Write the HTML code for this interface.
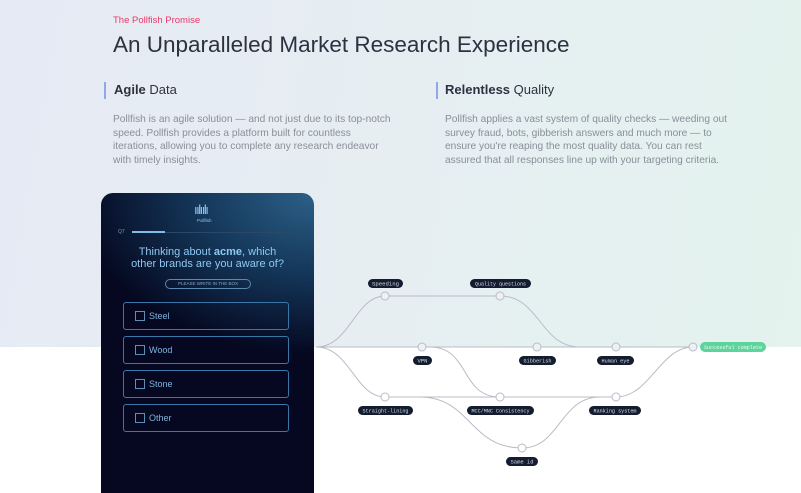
<!DOCTYPE html>
<html><head><meta charset="utf-8"><style>
*{margin:0;padding:0;box-sizing:border-box}
body{width:801px;height:488px;overflow:hidden;position:relative;font-family:"Liberation Sans",sans-serif;background:#fff}
.bg{position:absolute;left:0;top:0;width:801px;height:347px;background:linear-gradient(100deg,#e6eaf4 0%,#e6eef2 50%,#e4f3ee 100%)}
.t{position:absolute;white-space:nowrap}
.p{font-size:10.2px;line-height:13.5px;color:#8a8e99;position:absolute}
.bar{position:absolute;width:2px;height:17px;background:#8fa8e8}
.phone{position:absolute;left:101px;top:193px;width:213px;height:300px;border-radius:12px 12px 0 0;background:radial-gradient(ellipse 280px 190px at 100% 0%,#2d6088 0%,#15395c 40%,#050820 85%);}
.opt{position:absolute;left:22px;width:166px;height:28px;border:1px solid #3a77a8;border-radius:3px;color:#7fb3dc;font-size:9px;}
.opt span{position:absolute;left:25px;top:8px}
.opt i{position:absolute;left:11px;top:8px;width:10px;height:10px;border:1px solid #5b8fb8}
.lb{font-family:"Liberation Mono",monospace;font-size:5.5px;fill:#d8dde8}
</style></head><body>
<div class="bg"></div>
<div class="t" style="left:113px;top:15px;font-size:9.5px;color:#e83a6a">The Pollfish Promise</div>
<div class="t" style="left:113px;top:32px;font-size:22.5px;color:#2d3240">An Unparalleled Market Research Experience</div>
<div class="bar" style="left:104px;top:82px"></div>
<div class="t" style="left:114px;top:82px;font-size:13px;color:#2d3240"><b>Agile</b> Data</div>
<div class="p" style="left:113px;top:113px;width:300px">Pollfish is an agile solution — and not just due to its top-notch<br>speed. Pollfish provides a platform built for countless<br>iterations, allowing you to complete any research endeavor<br>with timely insights.</div>
<div class="bar" style="left:436px;top:82px"></div>
<div class="t" style="left:445px;top:82px;font-size:13px;color:#2d3240"><b>Relentless</b> Quality</div>
<div class="p" style="left:445px;top:113px;width:300px">Pollfish applies a vast system of quality checks — weeding out<br>survey fraud, bots, gibberish answers and much more — to<br>ensure you're reaping the most quality data. You can rest<br>assured that all responses line up with your targeting criteria.</div>

<div class="phone">
 <div class="t" style="left:93px;top:9px;font-size:13px;color:#8cc4ee;letter-spacing:-1.5px">ıılıılı</div>
 <div class="t" style="left:96px;top:25px;font-size:4.5px;color:#8cc4ee">Pollfish</div>
 <div class="t" style="left:17px;top:36px;font-size:5px;color:#7a9ab8">Q7</div>
 <div style="position:absolute;left:31px;top:39px;width:166px;height:1px;background:#2b4966"></div>
 <div style="position:absolute;left:31px;top:38px;width:33px;height:2px;background:#7fbde8"></div>
 <div class="t" style="left:0;width:213px;text-align:center;top:53px;font-size:11px;line-height:12px;color:#8ec8f0">Thinking about <b>acme</b>, which<br>other brands are you aware of?</div>
 <div class="t" style="left:64px;top:86px;width:86px;height:10px;border:1px solid #5d88b0;border-radius:6px;font-size:4.5px;line-height:8px;text-align:center;color:#7fa8cc">PLEASE WRITE IN THE BOX</div>
 <div class="opt" style="top:109px"><i></i><span>Steel</span></div>
 <div class="opt" style="top:143px"><i></i><span>Wood</span></div>
 <div class="opt" style="top:177px"><i></i><span>Stone</span></div>
 <div class="opt" style="top:211px"><i></i><span>Other</span></div>
</div>

<svg style="position:absolute;left:0;top:0" width="801" height="488">
<g fill="none" stroke="#b9bcc6" stroke-width="1">
<path d="M316 347 C350 347 355 296 385 296 L500 296 C540 296 540 347 580 347"/>
<path d="M316 347 L693 347"/>
<path d="M316 347 C350 347 355 397 385 397 L616 397 C650 397 660 347 693 347"/>
<path d="M430 347 C470 347 460 397 500 397"/>
<path d="M420 397 C470 397 470 448 522 448 C560 448 560 397 600 397"/>
</g>
<g fill="#eef1f4" stroke="#b9bcc6" stroke-width="1">
<circle cx="385" cy="296" r="4"/><circle cx="500" cy="296" r="4"/>
<circle cx="422" cy="347" r="4"/><circle cx="537" cy="347" r="4"/><circle cx="616" cy="347" r="4"/><circle cx="693" cy="347" r="4"/>
<circle cx="385" cy="397" r="4" fill="#fff"/><circle cx="500" cy="397" r="4" fill="#fff"/><circle cx="616" cy="397" r="4" fill="#fff"/><circle cx="522" cy="448" r="4" fill="#fff"/>
</g>
<g fill="#141c30">
<rect x="368" y="279" width="35" height="9" rx="4.5"/>
<rect x="470" y="279" width="61" height="9" rx="4.5"/>
<rect x="413" y="356" width="19" height="9" rx="4.5"/>
<rect x="519" y="356" width="37" height="9" rx="4.5"/>
<rect x="597" y="356" width="37" height="9" rx="4.5"/>
<rect x="358" y="406" width="55" height="9" rx="4.5"/>
<rect x="467" y="406" width="67" height="9" rx="4.5"/>
<rect x="589" y="406" width="52" height="9" rx="4.5"/>
<rect x="506" y="457" width="32" height="9" rx="4.5"/>
</g>
<rect x="700" y="342" width="66" height="10" rx="5" fill="#5ed39c"/>
<g class="lb" text-anchor="middle" lengthAdjust="spacingAndGlyphs">
<text x="385.5" y="285.5" textLength="27" lengthAdjust="spacingAndGlyphs">Speeding</text>
<text x="500.5" y="285.5" textLength="51" lengthAdjust="spacingAndGlyphs">Quality questions</text>
<text x="422.5" y="362.5" textLength="10" lengthAdjust="spacingAndGlyphs">VPN</text>
<text x="537.5" y="362.5" textLength="28" lengthAdjust="spacingAndGlyphs">Gibberish</text>
<text x="615.5" y="362.5" textLength="28" lengthAdjust="spacingAndGlyphs">Human eye</text>
<text x="385.5" y="412.5" textLength="46" lengthAdjust="spacingAndGlyphs">Straight-lining</text>
<text x="500.5" y="412.5" textLength="58" lengthAdjust="spacingAndGlyphs">MCC/MNC Consistency</text>
<text x="615" y="412.5" textLength="43" lengthAdjust="spacingAndGlyphs">Ranking system</text>
<text x="522" y="463.5" textLength="23" lengthAdjust="spacingAndGlyphs">Same id</text>
<text x="733" y="349" fill="#eafff4" textLength="58" lengthAdjust="spacingAndGlyphs">Successful complete</text>
</g>
</svg>
</body></html>
